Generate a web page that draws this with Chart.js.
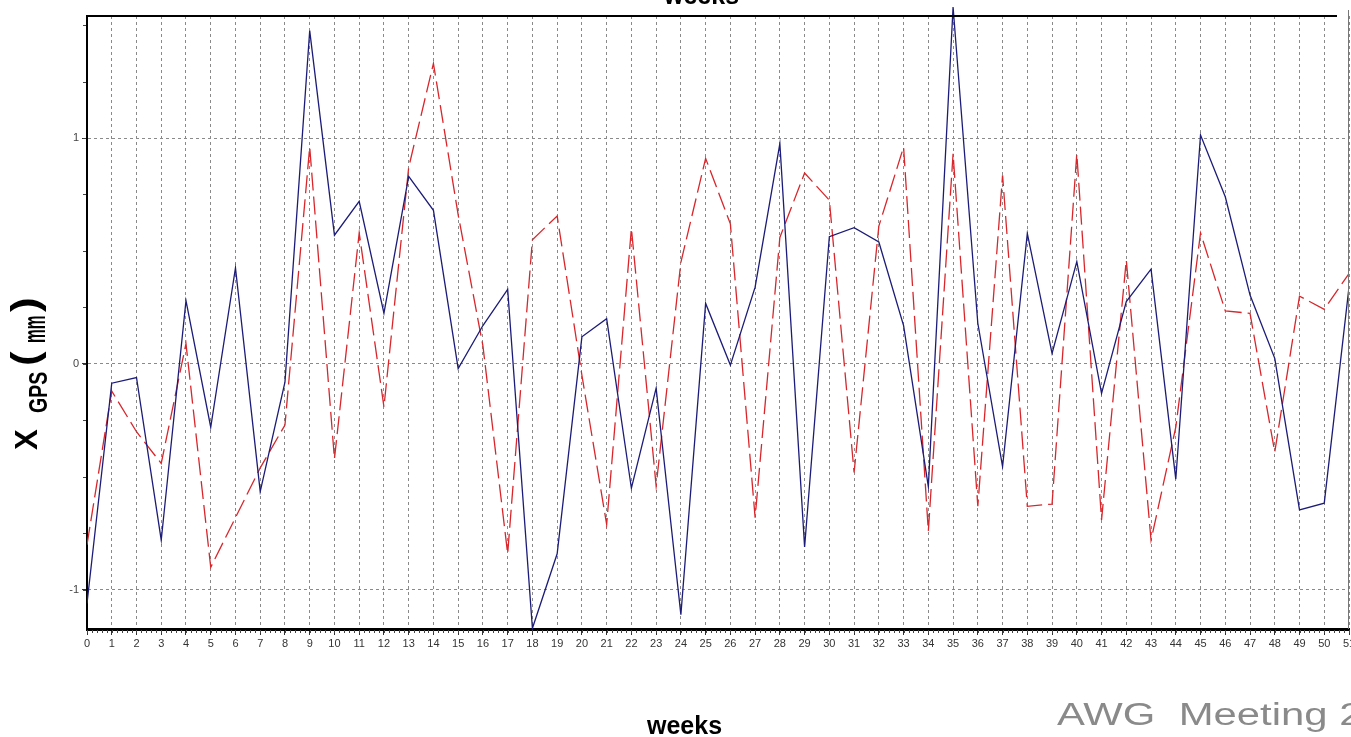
<!DOCTYPE html>
<html>
<head>
<meta charset="utf-8">
<title>X GPS weekly</title>
<script src="https://cdn.jsdelivr.net/npm/chart.js@4"></script>
<style>
    body { margin: 0; background: #fff; }
    #wrap { position: relative; width: 1351px; height: 737px; overflow: hidden; font-family: Arial, "Liberation Sans", sans-serif; }
    #wrap canvas { position: absolute; left: 0; top: 0; }
    .txt { position: absolute; line-height: 1; white-space: pre; }
    .topTitle { left: 664px; top: -17px; font-weight: bold; font-size: 25px; color: #000; }
    .bottomTitle { left: 647px; top: 713px; font-weight: bold; font-size: 25px; color: #000; }
    .footer { left: 1057px; top: 699px; font-size: 31px; color: #8a8a8a; transform-origin: 0 0; transform: scaleX(1.35); }
    .yl { position: absolute; line-height: 1; white-space: pre; color: #000; font-weight: bold; transform-origin: 0 0; }
</style>
</head>
<body>
<div id="wrap">
    <canvas id="gpsChart" width="1351" height="737"></canvas>
    <div class="txt topTitle">weeks</div>
    <div class="txt bottomTitle">weeks</div>
    <div class="txt footer">AWG  Meeting 2</div>
    <!-- y axis title, rotated piece by piece -->
    <div class="yl" style="font-size:31px;left:10.8px;top:450px;transform:rotate(-90deg);">X</div>
    <div class="yl" style="font-size:26px;left:25px;top:413px;transform:rotate(-90deg) scaleX(0.75);">GPS</div>
    <div class="yl" style="font-size:38px;left:5.5px;top:366px;transform:rotate(-90deg) scaleX(1.15);">(</div>
    <div class="yl" style="font-size:31px;left:18.8px;top:343px;transform:rotate(-90deg) scaleX(0.5);">mm</div>
    <div class="yl" style="font-size:38px;left:5.5px;top:312px;transform:rotate(-90deg) scaleX(1.15);">)</div>
</div>
<script>
// Week numbers along the x axis
const weeks = [0, 1, 2, 3, 4, 5, 6, 7, 8, 9, 10, 11, 12, 13, 14, 15, 16, 17, 18, 19, 20, 21, 22, 23, 24, 25,
    26, 27, 28, 29, 30, 31, 32, 33, 34, 35, 36, 37, 38, 39, 40, 41, 42, 43, 44, 45, 46, 47, 48, 49, 50, 51];

// Solid navy series (mm)
const blueValues = [-1.06, -0.085, -0.06, -0.78, 0.28, -0.28, 0.425, -0.565, -0.08, 1.475,
    0.57, 0.72, 0.225, 0.83, 0.68, -0.02, 0.17, 0.33, -1.17, -0.84,
    0.12, 0.2, -0.55, -0.107, -1.11, 0.268, -0.005, 0.34, 0.975, -0.81,
    0.563, 0.603, 0.54, 0.17, -0.543, 1.58, 0.18, -0.454, 0.578, 0.047,
    0.453, -0.13, 0.276, 0.42, -0.51, 1.013, 0.74, 0.305, 0.025, -0.646,
    -0.616, 0.34];

// Dashed red series (mm)
const redValues = [-0.8, -0.12, -0.3, -0.44, 0.09, -0.9, -0.68, -0.46, -0.27, 0.96,
    -0.42, 0.58, -0.19, 0.87, 1.33, 0.66, 0.08, -0.84, 0.55, 0.655,
    -0.05, -0.71, 0.6, -0.54, 0.45, 0.91, 0.62, -0.68, 0.56, 0.845,
    0.725, -0.48, 0.61, 0.96, -0.74, 0.93, -0.63, 0.835, -0.63, -0.62,
    0.93, -0.69, 0.46, -0.78, -0.28, 0.58, 0.235, 0.224, -0.39, 0.3,
    0.242, 0.4];

const yTicks = [-1, 0, 1];

// frame: top black line, right grey border, minor tick marks on both axes
const framePlugin = {
    id: 'frame',
    afterDraw(chart) {
        const ctx = chart.ctx;
        const area = chart.chartArea;
        const xs = chart.scales.x;
        const ys = chart.scales.y;
        ctx.save();
        ctx.strokeStyle = '#000';
        ctx.lineWidth = 2;
        ctx.beginPath();
        ctx.moveTo(area.left, area.top);
        ctx.lineTo(area.right - 12, area.top);
        ctx.stroke();

        ctx.strokeStyle = '#777';
        ctx.lineWidth = 1;
        ctx.beginPath();
        ctx.moveTo(area.right - 0.5, area.top - 6);
        ctx.lineTo(area.right - 0.5, area.bottom);
        ctx.stroke();

        // minor ticks
        ctx.strokeStyle = '#444';
        ctx.beginPath();
        for (let i = 0; i <= 51 * 5; i++) {
            const px = Math.round(xs.getPixelForValue(i / 5)) + 0.5;
            ctx.moveTo(px, area.bottom + 1);
            ctx.lineTo(px, area.bottom + 4);
        }
        for (let v = -1; v <= 1.5; v += 0.25) {
            const py = Math.round(ys.getPixelForValue(v)) + 0.5;
            ctx.moveTo(area.left - 4, py);
            ctx.lineTo(area.left - 1, py);
        }
        ctx.stroke();
        ctx.restore();
    }
};

const config = {
    type: 'line',
    data: {
        datasets: [
            {
                label: 'X GPS (solid)',
                data: weeks.map((w, i) => ({ x: w, y: blueValues[i] })),
                borderColor: '#1c1c78',
                borderWidth: 1.3,
                pointRadius: 0,
                tension: 0,
                clip: { left: 0, top: 10, right: 0, bottom: 2 }
            },
            {
                label: 'X GPS (dashed)',
                data: weeks.map((w, i) => ({ x: w, y: redValues[i] })),
                borderColor: '#d8262b',
                borderWidth: 1.3,
                borderDash: [18, 6],
                pointRadius: 0,
                tension: 0
            }
        ]
    },
    options: {
        responsive: false,
        animation: false,
        layout: { padding: { top: 16, right: 2, left: 0, bottom: 0 } },
        plugins: {
            legend: { display: false },
            tooltip: { enabled: false }
        },
        scales: {
            x: {
                type: 'linear',
                min: 0,
                max: 51,
                afterFit: scale => {
                    scale.height = 108;
                    scale.paddingLeft = 0;
                    scale.paddingRight = 0;
                },
                ticks: {
                    stepSize: 1,
                    autoSkip: false,
                    maxRotation: 0,
                    padding: 2,
                    color: '#333',
                    font: { family: '"Liberation Sans Narrow", "Liberation Sans", Arial', size: 11 }
                },
                grid: {
                    color: '#8a8a8a',
                    lineWidth: 1,
                    drawTicks: true,
                    tickLength: 6,
                    tickColor: '#333'
                },
                border: { color: '#000', width: 3, dash: [3, 3] }
            },
            y: {
                min: -1.173,
                max: 1.54,
                afterFit: scale => { scale.width = 87; },
                afterBuildTicks: scale => { scale.ticks = yTicks.map(v => ({ value: v })); },
                ticks: {
                    padding: 3,
                    color: '#444',
                    font: { family: '"Liberation Sans Narrow", "Liberation Sans", Arial', size: 11 }
                },
                grid: {
                    color: '#8a8a8a',
                    lineWidth: 1,
                    tickLength: 5,
                    tickColor: '#333'
                },
                border: { color: '#000', width: 2, dash: [3, 3] }
            }
        }
    },
    plugins: [framePlugin]
};

const gpsChart = new Chart(document.getElementById('gpsChart'), config);
</script>
</body>
</html>
